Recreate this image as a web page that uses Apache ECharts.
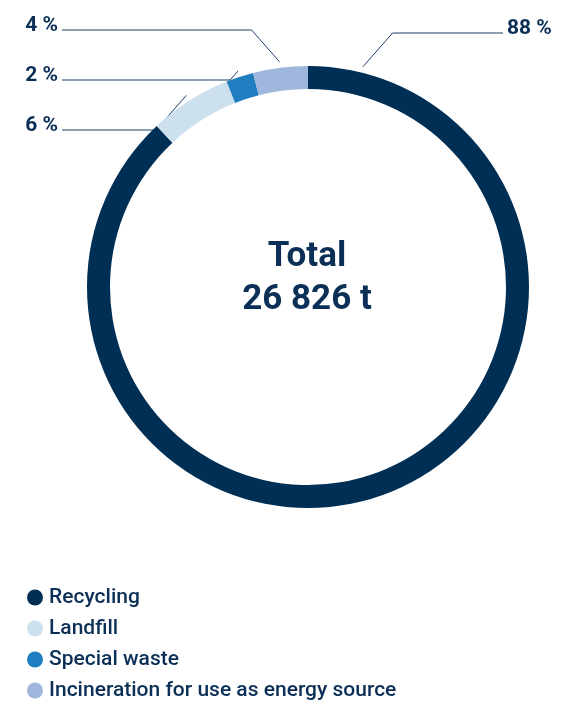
<!DOCTYPE html>
<html>
<head>
<meta charset="utf-8">
<script src="https://cdn.jsdelivr.net/npm/echarts@6/dist/echarts.min.js"></script>
<style>
  html, body { margin: 0; padding: 0; background: #ffffff; }
  #chart { width: 582px; height: 702px; }
</style>
</head>
<body>
<div id="chart"></div>
<script>
// Waste streams, share of total in percent
const categories = ['Recycling', 'Landfill', 'Special waste', 'Incineration for use as energy source'];
const shares = [88, 6, 2, 4];
const colors = ['#002f56', '#cde0ee', '#1f7ebf', '#9fb7dc'];
const totalText = ['Total', '26 826 t'];

// Label rows: which side and vertical position of each percentage label
const labelRows = [
  { side: 'right', y: 29 },
  { side: 'left', y: 126 },
  { side: 'left', y: 76 },
  { side: 'left', y: 26 }
];

const textColor = '#0b2f56';
const cx = 308, cy = 287, rOuter = 221, rInner = 198;

// Angle (degrees clockwise from 12 o'clock) where each leader line starts
function anchorAngle(i) {
  if (i === 0) return 14; // the large slice is tagged near its start
  const total = shares.reduce((a, b) => a + b, 0);
  let start = 0;
  for (let k = 0; k < i; k++) start += shares[k];
  return (start + shares[i] / 2) / total * 360;
}

const chart = echarts.init(document.getElementById('chart'), null, { renderer: 'canvas' });

chart.setOption({
  animation: false,
  color: colors,
  legend: {
    orient: 'vertical',
    left: 22,
    top: 582,
    height: 150,
    icon: 'circle',
    itemWidth: 16,
    itemHeight: 16,
    itemGap: 10,
    selectedMode: false,
    textStyle: { color: textColor, fontFamily: 'Roboto', fontWeight: 500, fontSize: 21, padding: [0, 0, 0, 1] },
    data: categories
  },
  graphic: [{
    type: 'text',
    x: cx - 1,
    y: 236,
    style: {
      text: totalText.join('\n'),
      textAlign: 'center',
      fill: textColor,
      font: 'bold 35px Roboto',
      lineHeight: 43
    }
  }],
  series: [{
    type: 'pie',
    center: [cx, cy],
    radius: [rInner, rOuter],
    startAngle: 90,
    clockwise: true,
    avoidLabelOverlap: false,
    silent: true,
    data: categories.map((name, i) => ({ name, value: shares[i] })),
    label: {
      show: true,
      formatter: '{c} %',
      color: textColor,
      fontFamily: 'Roboto',
      fontWeight: 'bold',
      fontSize: 21
    },
    labelLine: {
      show: true,
      lineStyle: { color: '#1d3f66', width: 1 }
    },
    labelLayout: function (params) {
      const i = params.dataIndex;
      const row = labelRows[i];
      const a = anchorAngle(i) * Math.PI / 180;
      const r = rOuter + 6;
      const ax = cx + r * Math.sin(a);
      const ay = cy - r * Math.cos(a);
      const lineY = row.y + 4;
      const dy = ay - lineY;
      const dir = row.side === 'right' ? 1 : -1;
      const bx = ax + dir * Math.abs(dy) * 0.88;
      const ex = row.side === 'right' ? 503 : 62;
      return {
        x: row.side === 'right' ? 507 : 58,
        y: row.y,
        align: row.side === 'right' ? 'left' : 'right',
        verticalAlign: 'middle',
        labelLinePoints: [[ax, ay], [bx, lineY], [ex, lineY]]
      };
    }
  }]
});
</script>
</body>
</html>
